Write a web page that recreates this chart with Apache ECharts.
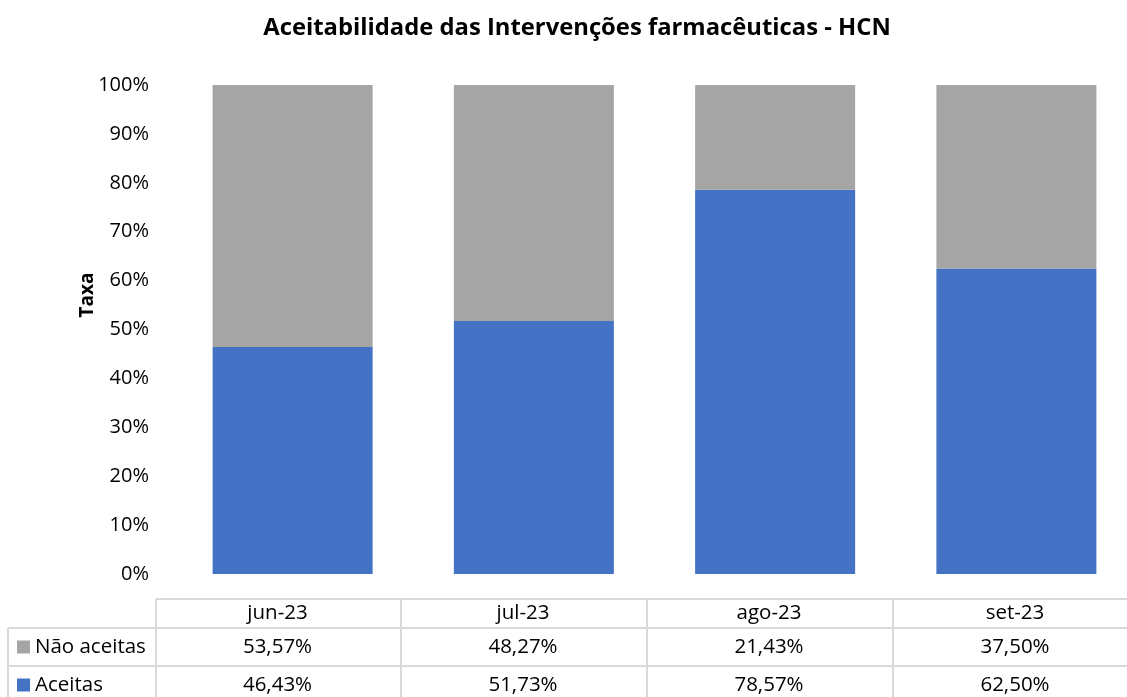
<!DOCTYPE html>
<html>
<head>
<meta charset="utf-8">
<script src="https://cdn.jsdelivr.net/npm/echarts@6/dist/echarts.min.js"></script>
<style>
  html, body { margin: 0; padding: 0; background: #fff; overflow: hidden; }
  #chart { width: 1139px; height: 697px; }
</style>
</head>
<body>
<div id="chart"></div>
<script>
// Monthly acceptance of pharmaceutical interventions (%)
const months = ['jun-23', 'jul-23', 'ago-23', 'set-23'];
const aceitas = [46.43, 51.73, 78.57, 62.50];
const naoAceitas = [53.57, 48.27, 21.43, 37.50];
const seriesNames = ['Não aceitas', 'Aceitas'];
const yTicks = [0, 10, 20, 30, 40, 50, 60, 70, 80, 90, 100];

const BLUE = '#4472C4';
const GRAY = '#A5A5A5';
const FONT = '"Open Sans", Lato, sans-serif';
const LINE = '#D9D9D9';

const fmt = v => v.toFixed(2).replace('.', ',') + '%';

// data table under the plot
const colEdges = [156, 401, 647, 893, 1139];
const rowEdges = [599, 628, 666, 704];
const graphics = [];
function hline(y, x1, x2) {
  graphics.push({ type: 'line', shape: { x1, y1: y, x2, y2: y }, style: { stroke: LINE, lineWidth: 2 }, silent: true });
}
function vline(x, y1, y2) {
  graphics.push({ type: 'line', shape: { x1: x, y1, x2: x, y2 }, style: { stroke: LINE, lineWidth: 2 }, silent: true });
}
hline(rowEdges[0], colEdges[0], 1139);
hline(rowEdges[1], 8, 1139);
hline(rowEdges[2], 8, 1139);
vline(8, rowEdges[1], 697);
colEdges.forEach(x => vline(x, rowEdges[0], 697));

function cellText(text, x, y, align) {
  graphics.push({
    type: 'text', x, y, silent: true,
    style: { text, fill: '#000', font: '20.5px ' + FONT, textAlign: align || 'center', textVerticalAlign: 'middle' }
  });
}
const rowMid = i => (rowEdges[i] + rowEdges[i + 1]) / 2;
months.forEach((m, i) => cellText(m, (colEdges[i] + colEdges[i + 1]) / 2 - 1, rowMid(0)));
const rows = [[seriesNames[0], naoAceitas, GRAY], [seriesNames[1], aceitas, BLUE]];
rows.forEach(([name, vals, color], r) => {
  const yc = rowMid(r + 1);
  graphics.push({ type: 'rect', shape: { x: 17, y: yc - 6.5, width: 13, height: 13 }, style: { fill: color }, silent: true });
  cellText(name, 35, yc, 'left');
  vals.forEach((v, i) => cellText(fmt(v), (colEdges[i] + colEdges[i + 1]) / 2 - 1, yc));
});

// y-axis title
graphics.push({
  type: 'text', x: 88, y: 295, rotation: Math.PI / 2, silent: true,
  style: { text: 'Taxa', fill: '#000', font: 'bold 19px ' + FONT, textAlign: 'center', textVerticalAlign: 'middle' }
});

const chart = echarts.init(document.getElementById('chart'));
chart.setOption({
  backgroundColor: '#fff',
  animation: false,
  title: {
    text: 'Aceitabilidade das Intervenções farmacêuticas - HCN',
    left: 572, top: 11, textAlign: 'center',
    textStyle: { fontFamily: FONT, fontSize: 23.8, fontWeight: 'bold', color: '#000' }
  },
  grid: { left: 172, right: 2, top: 85, bottom: 123, containLabel: false },
  xAxis: {
    type: 'category', data: months,
    axisLine: { show: false }, axisTick: { show: false }, axisLabel: { show: false }
  },
  yAxis: {
    type: 'value', min: 0, max: 100, interval: 10,
    splitLine: { show: false }, axisLine: { show: false }, axisTick: { show: false },
    axisLabel: {
      margin: 23, color: '#000', fontFamily: FONT, fontSize: 20,
      formatter: v => (yTicks.includes(v) ? v + '%' : '')
    }
  },
  series: [
    { name: seriesNames[1], type: 'bar', stack: 't', data: aceitas, barWidth: 160, itemStyle: { color: BLUE } },
    { name: seriesNames[0], type: 'bar', stack: 't', data: naoAceitas, barWidth: 160, itemStyle: { color: GRAY } }
  ],
  graphic: graphics
});
</script>
</body>
</html>
